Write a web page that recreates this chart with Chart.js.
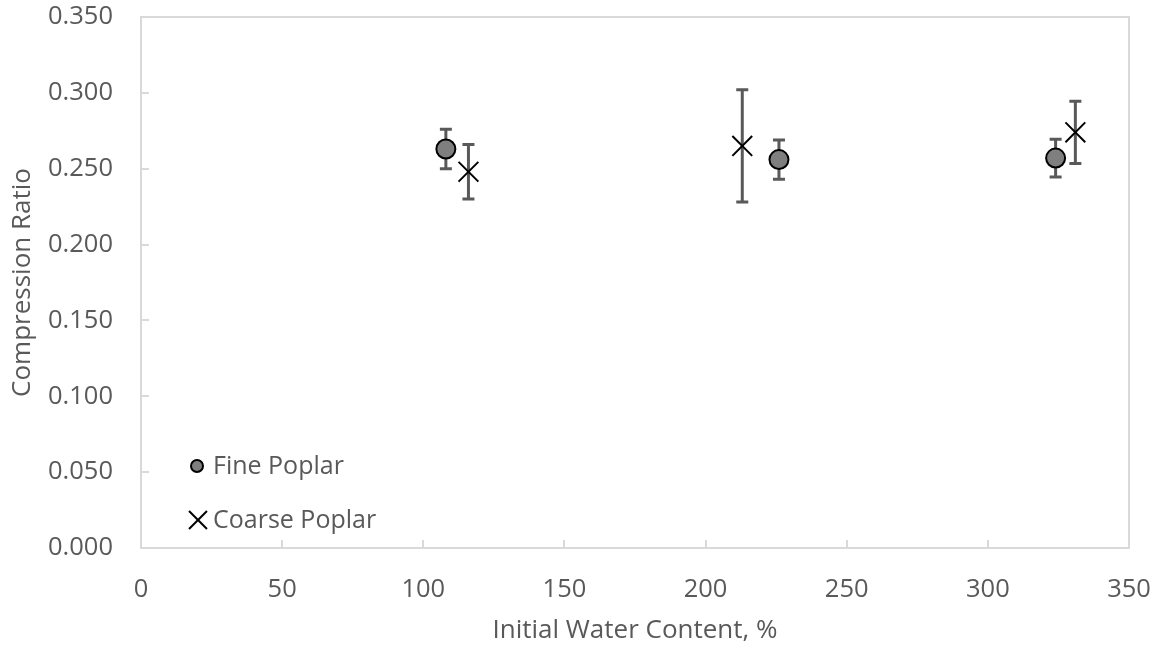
<!DOCTYPE html>
<html>
<head>
<meta charset="utf-8">
<script src="https://cdn.jsdelivr.net/npm/chart.js@4.4.0/dist/chart.umd.min.js"></script>
<style>
  html, body { margin: 0; padding: 0; background: #fff; }
</style>
</head>
<body>
<canvas id="myChart" width="1172" height="649"></canvas>
<script>
// data block
const fineX = [108, 226, 324];
const fineY = [0.263, 0.256, 0.257];
const fineErr = [0.013, 0.013, 0.0125];
const coarseX = [116, 213, 331];
const coarseY = [0.248, 0.265, 0.274];
const coarseErr = [0.018, 0.037, 0.0205];
const seriesNames = ["Fine Poplar", "Coarse Poplar"];
const xTitle = "Initial Water Content, %";
const yTitle = "Compression Ratio";

const textColor = "#595959";
const lineColor = "#d9d9d9";
const fontFamily = "'Open Sans', sans-serif";

function toPoints(xs, ys, errs) {
  return xs.map((x, i) => ({ x: x, y: ys[i], err: errs[i] }));
}

const data = {
  datasets: [
    {
      label: seriesNames[0],
      data: toPoints(fineX, fineY, fineErr),
      pointStyle: "circle",
      pointRadius: 9.5,
      backgroundColor: "#7f7f7f",
      borderColor: "#000000",
      borderWidth: 2,
    },
    {
      label: seriesNames[1],
      data: toPoints(coarseX, coarseY, coarseErr),
      pointStyle: "crossRot",
      pointRadius: 14,
      backgroundColor: "#000000",
      borderColor: "#000000",
      borderWidth: 2,
    },
  ],
};

// plot frame + inward tick marks
const framePlugin = {
  id: "frame",
  beforeDatasetsDraw(chart) {
    const { ctx, chartArea: a, scales } = chart;
    ctx.save();
    ctx.strokeStyle = lineColor;
    ctx.lineWidth = 2;
    ctx.strokeRect(a.left, a.top, a.right - a.left, a.bottom - a.top);
    ctx.beginPath();
    scales.x.ticks.forEach((t) => {
      const px = Math.round(scales.x.getPixelForValue(t.value));
      ctx.moveTo(px, a.bottom);
      ctx.lineTo(px, a.bottom - 8);
    });
    scales.y.ticks.forEach((t) => {
      const py = Math.round(scales.y.getPixelForValue(t.value));
      ctx.moveTo(a.left, py);
      ctx.lineTo(a.left + 8, py);
    });
    ctx.stroke();
    ctx.restore();
  },
};

// error bars under the markers
const errorBarPlugin = {
  id: "errorBars",
  beforeDatasetsDraw(chart) {
    const { ctx, scales } = chart;
    ctx.save();
    ctx.strokeStyle = "#595959";
    ctx.lineWidth = 3;
    chart.data.datasets.forEach((ds) => {
      ds.data.forEach((p) => {
        const x = scales.x.getPixelForValue(p.x);
        const yTop = scales.y.getPixelForValue(p.y + p.err);
        const yBot = scales.y.getPixelForValue(p.y - p.err);
        ctx.beginPath();
        ctx.moveTo(x, yTop);
        ctx.lineTo(x, yBot);
        ctx.moveTo(x - 6, yTop);
        ctx.lineTo(x + 6, yTop);
        ctx.moveTo(x - 6, yBot);
        ctx.lineTo(x + 6, yBot);
        ctx.stroke();
      });
    });
    ctx.restore();
  },
};

// legend inside plot, bottom-left
const insideLegend = {
  id: "insideLegend",
  afterDraw(chart) {
    const { ctx, chartArea: a } = chart;
    const rows = [
      { y: a.bottom - 82, radius: 6, dx: 56 },
      { y: a.bottom - 28, radius: 12.7, dx: 57 },
    ];
    ctx.save();
    chart.data.datasets.forEach((ds, i) => {
      const r = rows[i];
      const mx = a.left + r.dx;
      ctx.lineWidth = 2;
      ctx.strokeStyle = ds.borderColor;
      ctx.fillStyle = ds.backgroundColor;
      Chart.helpers.drawPoint(ctx, { pointStyle: ds.pointStyle, radius: r.radius, borderWidth: 2 }, mx, r.y);
      ctx.fillStyle = textColor;
      ctx.font = "25px " + fontFamily;
      ctx.textAlign = "left";
      ctx.textBaseline = "middle";
      ctx.fillText(ds.label, a.left + 72, r.y + 1);
    });
    ctx.restore();
  },
};

const config = {
  type: "scatter",
  data: data,
  options: {
    responsive: false,
    animation: false,
    events: [],
    layout: { padding: { top: 17, right: 43, left: 0, bottom: 0 } },
    plugins: {
      legend: { display: false },
      tooltip: { enabled: false },
    },
    scales: {
      x: {
        min: 0,
        max: 350,
        ticks: { stepSize: 50, color: textColor, padding: 18, font: { family: fontFamily, size: 25.5 } },
        grid: { display: false },
        border: { display: false },
        title: { display: true, text: xTitle, color: textColor, padding: { top: 0, bottom: 3 }, font: { family: fontFamily, size: 26 } },
        afterFit(scale) {
          scale.height = 101;
          scale.paddingLeft = 0;
          scale.paddingRight = 0;
        },
      },
      y: {
        min: 0,
        max: 0.35,
        ticks: {
          stepSize: 0.05,
          color: textColor,
          padding: 20,
          font: { family: fontFamily, size: 25.5 },
          callback: (v) => v.toFixed(3),
        },
        grid: { display: false },
        border: { display: false },
        title: { display: true, text: yTitle, color: textColor, padding: { top: 7, bottom: 0 }, font: { family: fontFamily, size: 26 } },
        afterFit(scale) {
          scale.width = 141;
          scale.paddingTop = 0;
          scale.paddingBottom = 0;
        },
      },
    },
  },
  plugins: [framePlugin, errorBarPlugin, insideLegend],
};

const myChart = new Chart(document.getElementById("myChart"), config);
</script>
</body>
</html>
